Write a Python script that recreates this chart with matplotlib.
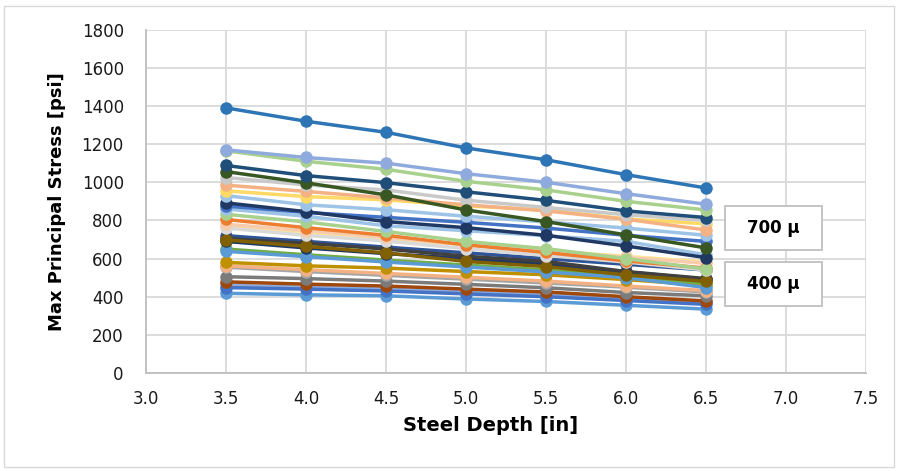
import matplotlib.pyplot as plt
from matplotlib.patches import Rectangle

plt.rcParams['font.family'] = ['DejaVu Sans']

# steel depth [in]
depth = [3.5, 4.0, 4.5, 5.0, 5.5, 6.0, 6.5]

# max principal stress [psi] for each case
series_colors = [
    '#5B9BD5', '#8FAADC', '#4472C4', '#9E480E', '#7B7B7B', '#A5A5A5',
    '#F4B183', '#BF9000', '#70AD47', '#5B9BD5', '#2F5597', '#1F3864',
    '#404040', '#806000', '#FFE699', '#D9D9D9', '#F8CBAD', '#ED7D31',
    '#A9D18E', '#9DC3E6', '#4472C4', '#203864', '#9DC3E6', '#FFD966',
    '#F4B183', '#C9C9C9', '#385723', '#1F4E79', '#A9D18E', '#8FAADC',
    '#2E75B6',
]
series_values = [
    [418, 410, 405, 388, 375, 355, 335],
    [460, 450, 440, 425, 410, 390, 370],
    [448, 440, 430, 415, 400, 380, 360],
    [478, 466, 456, 440, 425, 400, 378],
    [505, 495, 482, 465, 447, 422, 405],
    [555, 532, 512, 492, 472, 450, 425],
    [562, 542, 522, 502, 482, 456, 432],
    [580, 562, 550, 532, 515, 490, 460],
    [650, 620, 592, 566, 540, 505, 470],
    [638, 610, 582, 556, 530, 500, 448],
    [720, 690, 660, 630, 600, 570, 540],
    [690, 656, 626, 600, 570, 530, 492],
    [705, 680, 650, 612, 585, 532, 495],
    [698, 664, 630, 585, 558, 514, 480],
    [772, 732, 702, 672, 642, 612, 582],
    [760, 722, 692, 652, 616, 582, 540],
    [780, 746, 712, 672, 642, 606, 575],
    [805, 762, 722, 672, 632, 588, 550],
    [832, 792, 742, 690, 652, 600, 545],
    [860, 822, 772, 746, 720, 690, 620],
    [875, 842, 816, 790, 760, 722, 690],
    [892, 846, 794, 762, 722, 666, 605],
    [930, 882, 856, 822, 792, 760, 722],
    [955, 925, 908, 876, 855, 808, 782],
    [985, 952, 918, 882, 850, 806, 750],
    [1025, 986, 960, 906, 868, 830, 800],
    [1056, 997, 934, 855, 794, 724, 656],
    [1088, 1035, 998, 950, 905, 850, 815],
    [1165, 1110, 1068, 1005, 960, 900, 855],
    [1170, 1130, 1100, 1045, 1000, 940, 885],
    [1390, 1320, 1262, 1180, 1118, 1040, 970],
]

box_labels = ['700 \u03bc', '400 \u03bc']

fig = plt.figure(figsize=(8.99, 4.71), dpi=100)
ax = fig.add_axes([0.1624, 0.208, 0.801, 0.729])

for vals, col in zip(series_values, series_colors):
    ax.plot(depth, vals, color=col, lw=2.5, marker='o', markersize=9,
            markeredgewidth=0, solid_capstyle='round')

ax.set_xlim(3.0, 7.5)
ax.set_ylim(0, 1800)
ax.set_xticks([3.0, 3.5, 4.0, 4.5, 5.0, 5.5, 6.0, 6.5, 7.0, 7.5])
ax.set_xticklabels(['%.1f' % t for t in ax.get_xticks()])
ax.set_yticks(range(0, 1801, 200))
ax.grid(True, color='#D9D9D9', lw=1.3)
ax.set_axisbelow(True)
for s in ['top', 'right']:
    ax.spines[s].set_visible(False)
for s in ['left', 'bottom']:
    ax.spines[s].set_color('#BFBFBF')
    ax.spines[s].set_linewidth(1.3)
ax.tick_params(length=0, labelsize=12, colors='#1a1a1a')
ax.tick_params(axis='x', pad=12)
ax.tick_params(axis='y', pad=16)

ax.set_xlabel('Steel Depth [in]', fontsize=14, fontweight='bold')
ax.set_ylabel('Max Principal Stress [psi]', fontsize=13, fontweight='bold')
ax.xaxis.set_label_coords(0.478, -0.125)
ax.yaxis.set_label_coords(-0.111, 0.5)

# annotation boxes
for lab, y0 in zip(box_labels, [0.359, 0.195]):
    ax.add_patch(Rectangle((0.804, y0), 0.135, 0.127, transform=ax.transAxes,
                           facecolor='white', edgecolor='#BFBFBF', lw=1.3,
                           clip_on=False, zorder=5))
    ax.text(0.8715, y0 + 0.0635, lab, transform=ax.transAxes, ha='center',
            va='center', fontsize=12, fontweight='bold', zorder=6)

# outer chart border
fig.patches.append(Rectangle((0.005, 0.008), 0.989, 0.98, transform=fig.transFigure,
                             fill=False, edgecolor='#D9D9D9', lw=1))

fig.savefig('out.png', dpi=100)
